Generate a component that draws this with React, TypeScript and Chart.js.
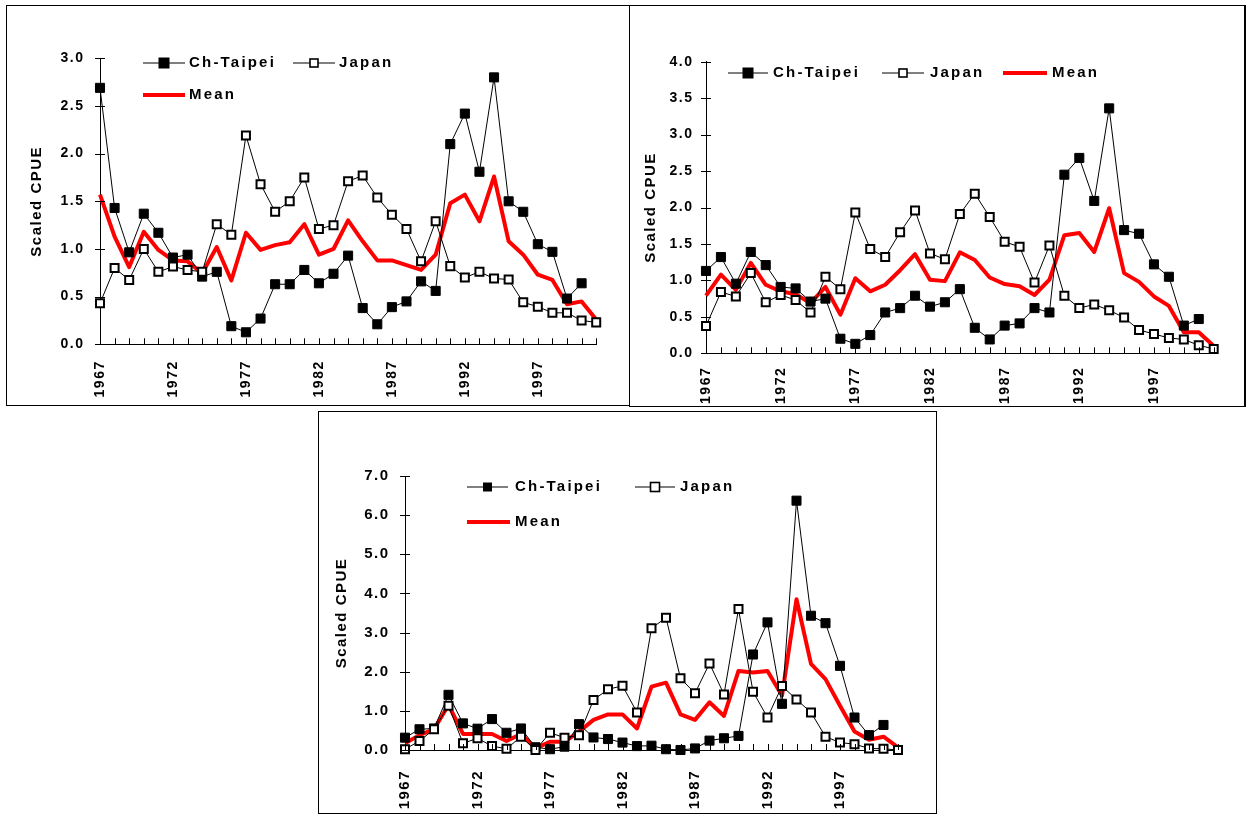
import React, { useEffect, useRef } from 'react';
import { Chart, registerables } from 'chart.js';

Chart.register(...registerables);

const years = [
  '1967', '1968', '1969', '1970', '1971', '1972', '1973', '1974', '1975', '1976',
  '1977', '1978', '1979', '1980', '1981', '1982', '1983', '1984', '1985', '1986',
  '1987', '1988', '1989', '1990', '1991', '1992', '1993', '1994', '1995', '1996',
  '1997', '1998', '1999', '2000', '2001',
];

// Panel 1 (top left)
const taipei1 = [2.69, 1.43, 0.965, 1.37, 1.17, 0.91, 0.94, 0.71, 0.76, 0.19, 0.126, 0.27, 0.63, 0.63, 0.78, 0.64, 0.74, 0.93, 0.38, 0.21, 0.39, 0.45, 0.66, 0.56, 2.10, 2.42, 1.81, 2.80, 1.50, 1.39, 1.05, 0.97, 0.48, 0.64, null];
const japan1 = [0.43, 0.80, 0.675, 1.00, 0.76, 0.815, 0.78, 0.76, 1.26, 1.15, 2.19, 1.68, 1.39, 1.50, 1.75, 1.21, 1.25, 1.71, 1.77, 1.54, 1.36, 1.21, 0.87, 1.29, 0.82, 0.70, 0.76, 0.69, 0.68, 0.44, 0.395, 0.33, 0.33, 0.25, 0.23];
const mean1 = [1.57, 1.13, 0.81, 1.18, 0.99, 0.88, 0.87, 0.745, 1.02, 0.67, 1.17, 0.99, 1.04, 1.07, 1.26, 0.94, 1.00, 1.30, 1.08, 0.88, 0.88, 0.83, 0.78, 0.94, 1.48, 1.57, 1.29, 1.76, 1.08, 0.94, 0.73, 0.675, 0.42, 0.45, 0.26];

// Panel 2 (top right)
const taipei2 = [1.13, 1.32, 0.955, 1.39, 1.21, 0.91, 0.89, 0.71, 0.75, 0.20, 0.13, 0.25, 0.56, 0.62, 0.79, 0.64, 0.70, 0.88, 0.35, 0.19, 0.38, 0.41, 0.62, 0.56, 2.45, 2.68, 2.09, 3.36, 1.69, 1.64, 1.22, 1.05, 0.38, 0.47, null];
const japan2 = [0.375, 0.84, 0.78, 1.10, 0.70, 0.80, 0.73, 0.56, 1.05, 0.88, 1.93, 1.43, 1.32, 1.66, 1.96, 1.37, 1.29, 1.91, 2.19, 1.87, 1.53, 1.46, 0.97, 1.48, 0.79, 0.62, 0.67, 0.59, 0.49, 0.32, 0.265, 0.21, 0.19, 0.11, 0.06];
const mean2 = [0.79, 1.08, 0.87, 1.24, 0.94, 0.85, 0.81, 0.69, 0.91, 0.53, 1.03, 0.85, 0.94, 1.14, 1.36, 1.01, 0.99, 1.385, 1.28, 1.04, 0.95, 0.92, 0.80, 1.01, 1.62, 1.65, 1.39, 1.99, 1.10, 0.98, 0.78, 0.65, 0.29, 0.29, 0.10];

// Panel 3 (bottom)
const taipei3 = [0.315, 0.53, 0.55, 1.41, 0.68, 0.545, 0.79, 0.44, 0.55, 0.07, 0.02, 0.085, 0.66, 0.32, 0.28, 0.19, 0.10, 0.11, 0.02, 0.0, 0.04, 0.24, 0.30, 0.36, 2.44, 3.26, 1.18, 6.37, 3.43, 3.24, 2.15, 0.83, 0.38, 0.64, null];
const japan3 = [0.02, 0.23, 0.53, 1.13, 0.17, 0.30, 0.10, 0.03, 0.34, 0.0, 0.44, 0.315, 0.375, 1.28, 1.55, 1.64, 0.96, 3.11, 3.38, 1.83, 1.45, 2.21, 1.42, 3.60, 1.49, 0.83, 1.635, 1.29, 0.96, 0.34, 0.19, 0.15, 0.04, 0.03, 0.0];
const mean3 = [0.17, 0.38, 0.53, 1.15, 0.41, 0.41, 0.41, 0.23, 0.41, 0.04, 0.21, 0.21, 0.47, 0.77, 0.91, 0.91, 0.55, 1.62, 1.72, 0.91, 0.77, 1.22, 0.87, 2.02, 1.98, 2.02, 1.39, 3.85, 2.20, 1.81, 1.13, 0.47, 0.26, 0.34, 0.07];

const seriesNames = ['Japan', 'Ch-Taipei', 'Mean'];
const yTitle = 'Scaled CPUE';

const FONT = "'Liberation Sans', Arial, Helvetica, sans-serif";

type LegendItem = { ds: number; x1: number; x2: number; y: number; tx: number; sq: number };
type PanelCfg = {
  box: { x: number; y: number; w: number; h: number; br: number };
  data: { japan: (number | null)[]; taipei: (number | null)[]; mean: (number | null)[] };
  yMax: number;
  yStep: number;
  yW: number;
  padR: number;
  padT: number;
  xH: number;
  yPad: number;
  xPad: number;
  titlePad: number;
  tickFont: number;
  legend: LegendItem[];
};

const panels: PanelCfg[] = [
  {
    box: { x: 6, y: 5, w: 624, h: 401, br: 1 },
    data: { japan: japan1, taipei: taipei1, mean: mean1 },
    yMax: 3, yStep: 0.5,
    yW: 93, padR: 19, padT: 52.3, xH: 60.7,
    yPad: 15.5, xPad: 16, titlePad: 21, tickFont: 14,
    legend: [
      { ds: 1, x1: 143, x2: 185, y: 63, tx: 189, sq: 11 },
      { ds: 0, x1: 293, x2: 335, y: 63, tx: 339, sq: 8 },
      { ds: 2, x1: 143, x2: 185, y: 95, tx: 189, sq: 0 },
    ],
  },
  {
    box: { x: 629, y: 5, w: 617, h: 402, br: 2 },
    data: { japan: japan2, taipei: taipei2, mean: mean2 },
    yMax: 4, yStep: 0.5,
    yW: 76, padR: 13, padT: 55.7, xH: 52.7,
    yPad: 12.5, xPad: 13.5, titlePad: 12, tickFont: 14,
    legend: [
      { ds: 1, x1: 728, x2: 768, y: 73, tx: 773, sq: 11 },
      { ds: 0, x1: 882, x2: 924, y: 73, tx: 930, sq: 8 },
      { ds: 2, x1: 1003, x2: 1047, y: 73, tx: 1052, sq: 0 },
    ],
  },
  {
    box: { x: 318, y: 411, w: 619, h: 403, br: 1 },
    data: { japan: japan3, taipei: taipei3, mean: mean3 },
    yMax: 7, yStep: 1,
    yW: 86, padR: 17, padT: 64, xH: 63,
    yPad: 15.5, xPad: 20, titlePad: 13.5, tickFont: 15,
    legend: [
      { ds: 1, x1: 467, x2: 508, y: 487, tx: 515, sq: 9 },
      { ds: 0, x1: 635, x2: 675, y: 487, tx: 680, sq: 9 },
      { ds: 2, x1: 467, x2: 510, y: 522, tx: 515, sq: 0 },
    ],
  },
];

function ChartPanel({ p }: { p: PanelCfg }) {
  const ref = useRef<HTMLCanvasElement>(null);
  const ox = p.box.x + 1;
  const oy = p.box.y + 1;
  const cw = p.box.w - 1 - p.box.br;
  const ch = p.box.h - 2;

  useEffect(() => {
    const canvas = ref.current!;
    const LS = '1.5px';

    const spacing = {
      id: 'spacing',
      beforeUpdate(c: any) { c.ctx.letterSpacing = LS; },
      beforeLayout(c: any) { c.ctx.letterSpacing = LS; },
      beforeDraw(c: any) { c.ctx.letterSpacing = LS; },
    };

    const tickMarks = {
      id: 'tickMarks',
      afterDraw(c: any) {
        const ctx = c.ctx;
        const xs = c.scales.x;
        const ys = c.scales.y;
        const area = c.chartArea;
        ctx.save();
        ctx.strokeStyle = '#000';
        ctx.lineWidth = 1;
        ctx.beginPath();
        for (let i = 0; i < xs.ticks.length; i++) {
          const px = Math.round(xs.getPixelForTick(i)) + 0.5;
          ctx.moveTo(px, area.bottom);
          ctx.lineTo(px, area.bottom - 6);
        }
        for (let i = 0; i < ys.ticks.length; i++) {
          const py = Math.round(ys.getPixelForTick(i)) + 0.5;
          ctx.moveTo(area.left - 5, py);
          ctx.lineTo(area.left + 5, py);
        }
        ctx.stroke();
        ctx.restore();
      },
    };

    const customLegend = {
      id: 'customLegend',
      afterDraw(c: any) {
        const ctx = c.ctx;
        ctx.save();
        for (const it of p.legend) {
          const ds = c.data.datasets[it.ds];
          const x1 = it.x1 - ox;
          const x2 = it.x2 - ox;
          const y = it.y - oy;
          ctx.beginPath();
          ctx.strokeStyle = ds.borderColor;
          ctx.lineWidth = ds.borderWidth;
          ctx.moveTo(x1, y);
          ctx.lineTo(x2, y);
          ctx.stroke();
          if (it.sq > 0) {
            const cx = (x1 + x2) / 2;
            const s = it.sq;
            if (it.ds === 1) {
              ctx.fillStyle = '#000';
              ctx.fillRect(cx - s / 2, y - s / 2, s, s);
            } else {
              ctx.fillStyle = '#fff';
              ctx.fillRect(cx - s / 2, y - s / 2, s, s);
              ctx.strokeStyle = '#000';
              ctx.lineWidth = 1.6;
              ctx.strokeRect(cx - s / 2, y - s / 2, s, s);
            }
          }
          ctx.letterSpacing = '2.2px';
          ctx.font = `bold 15px ${FONT}`;
          ctx.fillStyle = '#000';
          ctx.textAlign = 'left';
          ctx.textBaseline = 'middle';
          ctx.fillText(ds.label, it.tx - ox, y);
        }
        ctx.restore();
      },
    };

    const tickFont = { family: FONT, size: p.tickFont, weight: 'bold' as const };

    const chart = new Chart(canvas, {
      type: 'line',
      data: {
        labels: years,
        datasets: [
          {
            label: seriesNames[0],
            data: p.data.japan,
            borderColor: '#000',
            borderWidth: 1,
            pointStyle: 'rect',
            pointRadius: 5.66,
            pointBackgroundColor: '#fff',
            pointBorderColor: '#000',
            pointBorderWidth: 2,
            tension: 0,
            clip: false,
          },
          {
            label: seriesNames[1],
            data: p.data.taipei,
            borderColor: '#000',
            borderWidth: 1,
            pointStyle: 'rect',
            pointRadius: 6.4,
            pointBackgroundColor: '#000',
            pointBorderColor: '#000',
            pointBorderWidth: 1,
            tension: 0,
            spanGaps: false,
            clip: false,
          },
          {
            label: seriesNames[2],
            data: p.data.mean,
            borderColor: '#ff0000',
            borderWidth: 4,
            borderJoinStyle: 'round',
            pointRadius: 0,
            tension: 0,
            clip: false,
          },
        ],
      } as any,
      options: {
        animation: false,
        responsive: false,
        maintainAspectRatio: false,
        devicePixelRatio: 1,
        events: [],
        layout: { padding: { left: 0, right: p.padR, top: p.padT, bottom: 0 } },
        plugins: {
          legend: { display: false },
          tooltip: { enabled: false },
        },
        scales: {
          x: {
            type: 'category',
            offset: false,
            grid: { display: true, drawOnChartArea: false, drawTicks: false },
            border: { display: true, color: '#000', width: 1 },
            ticks: {
              autoSkip: false,
              minRotation: 90,
              maxRotation: 90,
              padding: p.xPad,
              color: '#000',
              font: tickFont,
              callback: (_v: any, i: number) => (i % 5 === 0 ? years[i] : ''),
            },
            afterFit: (s: any) => { s.height = p.xH; },
          },
          y: {
            min: 0,
            max: p.yMax,
            grid: { display: true, drawOnChartArea: false, drawTicks: false },
            border: { display: true, color: '#000', width: 1 },
            ticks: {
              stepSize: p.yStep,
              padding: p.yPad,
              color: '#000',
              font: tickFont,
              callback: (v: any) => Number(v).toFixed(1),
            },
            title: {
              display: true,
              text: yTitle,
              color: '#000',
              font: { family: FONT, size: 15, weight: 'bold' },
              padding: { top: p.titlePad, bottom: 0 },
            },
            afterFit: (s: any) => { s.width = p.yW; },
          },
        },
      } as any,
      plugins: [spacing, tickMarks, customLegend],
    });
    return () => chart.destroy();
  }, []);

  return (
    <div
      style={{
        position: 'absolute',
        left: p.box.x,
        top: p.box.y,
        width: p.box.w,
        height: p.box.h,
        boxSizing: 'border-box',
        borderTop: '1px solid #000',
        borderLeft: '1px solid #000',
        borderBottom: '1px solid #000',
        borderRight: `${p.box.br}px solid #000`,
        background: '#fff',
      }}
    >
      <canvas
        ref={ref}
        width={cw}
        height={ch}
        style={{ position: 'absolute', left: 0, top: 0, width: cw, height: ch, display: 'block' }}
      />
    </div>
  );
}

export default function App() {
  return (
    <div style={{ position: 'absolute', left: 0, top: 0, width: 1248, height: 814, background: '#fff', overflow: 'hidden' }}>
      {panels.map((p, i) => (
        <ChartPanel key={i} p={p} />
      ))}
    </div>
  );
}
